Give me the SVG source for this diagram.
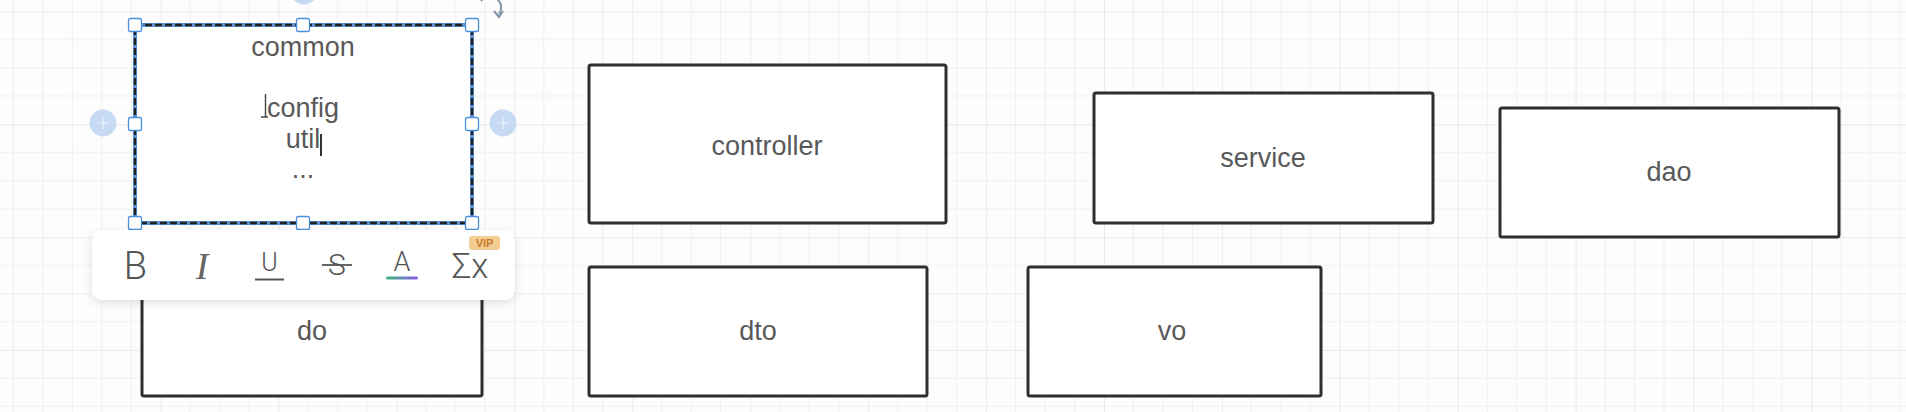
<svg xmlns="http://www.w3.org/2000/svg" width="1906" height="412" viewBox="0 0 1906 412">
<style>
.box{fill:#ffffff;stroke:#2e2e2e;stroke-width:3;}
.lbl{font-family:"Liberation Sans",Arial,sans-serif;font-size:27px;fill:#595959;text-anchor:middle;}
.hdl{fill:#ffffff;stroke:#4a8fdf;stroke-width:1.3;}
.anc{fill:#c6dbf3;}
.ico{font-family:Roboto,"Liberation Sans",sans-serif;font-weight:300;fill:#555555;text-anchor:middle;}
</style>
<defs>
<pattern id="grid" patternUnits="userSpaceOnUse" x="42.7" y="11.5" width="117.92" height="112.8">
<path d="M29.48 0V112.8M58.96 0V112.8M88.44 0V112.8M0 28.2H117.92M0 56.4H117.92M0 84.6H117.92" stroke="#efefef" stroke-width="1" fill="none"/>
<path d="M0 0V112.8M0 0H117.92" stroke="#e2e2e2" stroke-width="1.3" fill="none"/>
</pattern>
<filter id="sh" x="-10%" y="-30%" width="120%" height="170%">
<feDropShadow dx="0" dy="3" stdDeviation="5" flood-color="#000" flood-opacity="0.12"/>
</filter>
<linearGradient id="ag" x1="0" x2="1" y1="0" y2="0">
<stop offset="0" stop-color="#3cb878"/>
<stop offset="1" stop-color="#8a5cf0"/>
</linearGradient>
</defs>
<rect width="1906" height="412" fill="#fdfdfd"/>
<rect width="1906" height="412" fill="url(#grid)"/>
<g id="connectors"></g>
<g id="node-controller">
<rect class="box" x="589" y="65" width="357" height="158" rx="2"/>
<text class="lbl" x="767" y="155">controller</text>
</g>
<g id="node-service">
<rect class="box" x="1094" y="93" width="339" height="130" rx="2"/>
<text class="lbl" x="1263" y="167">service</text>
</g>
<g id="node-dao">
<rect class="box" x="1500" y="108" width="339" height="129" rx="2"/>
<text class="lbl" x="1669" y="181">dao</text>
</g>
<g id="node-dto">
<rect class="box" x="589" y="267" width="338" height="129" rx="2"/>
<text class="lbl" x="758" y="340">dto</text>
</g>
<g id="node-vo">
<rect class="box" x="1028" y="267" width="293" height="129" rx="2"/>
<text class="lbl" x="1172" y="340">vo</text>
</g>
<g id="node-do">
<rect class="box" x="142" y="267" width="340" height="129" rx="2"/>
<text class="lbl" x="312" y="340">do</text>
</g>
<g id="node-common">
<rect x="135" y="25" width="337" height="198" fill="#ffffff" stroke="#5b93d6" stroke-width="4"/>
<rect x="135" y="25" width="337" height="198" fill="none" stroke="#1f1f1f" stroke-width="2.4" stroke-dasharray="7 3"/>
<text class="lbl" x="303" y="56">common</text>
<text class="lbl" x="303" y="117">config</text>
<text class="lbl" x="303" y="147.5">util</text>
<text class="lbl" x="303" y="178">...</text>
<path d="M321 134V156" stroke="#333" stroke-width="2"/>
<path d="M265.5 94V117M261 117H268" stroke="#444" stroke-width="1.4" fill="none"/>
<rect class="hdl" x="128.5" y="18.5" width="13" height="13" rx="2"/>
<rect class="hdl" x="296.5" y="18.5" width="13" height="13" rx="2"/>
<rect class="hdl" x="465.5" y="18.5" width="13" height="13" rx="2"/>
<rect class="hdl" x="128.5" y="117.5" width="13" height="13" rx="2"/>
<rect class="hdl" x="465.5" y="117.5" width="13" height="13" rx="2"/>
<rect class="hdl" x="128.5" y="216.5" width="13" height="13" rx="2"/>
<rect class="hdl" x="296.5" y="216.5" width="13" height="13" rx="2"/>
<rect class="hdl" x="465.5" y="216.5" width="13" height="13" rx="2"/>
<circle class="anc" cx="103" cy="123" r="13.5"/>
<circle class="anc" cx="503" cy="123" r="13.5"/>
<circle class="anc" cx="304" cy="-9" r="13.5"/>
<path d="M103 117V129M97 123H109M503 117V129M497 123H509" stroke="#ffffff" stroke-width="1.2" opacity="0.6"/>
<path d="M481 1A11 11 0 0 1 499 14" fill="none" stroke="#8293a8" stroke-width="2"/>
<path d="M494 11L499 17L503 11" fill="none" stroke="#8293a8" stroke-width="2"/>
</g>
<g id="toolbar">
<rect x="92" y="230" width="423" height="70" rx="10" fill="#ffffff" filter="url(#sh)"/>
<text class="ico" x="135.5" y="279" style="font-size:38px">B</text>
<text x="202" y="279" font-family="Liberation Serif,serif" font-style="italic" font-size="38" fill="#666" text-anchor="middle">I</text>
<text class="ico" x="269.5" y="271" style="font-size:25px">U</text>
<path d="M255 279.5H284" stroke="#555" stroke-width="2"/>
<text class="ico" x="337" y="275" style="font-size:30px">S</text>
<path d="M322 265H352" stroke="#555" stroke-width="1.8"/>
<text class="ico" x="402" y="271" style="font-size:27px">A</text>
<rect x="386" y="276.5" width="32" height="3" rx="1.5" fill="url(#ag)"/>
<text class="ico" x="470" y="278" style="font-size:35px">Σx</text>
<rect x="469" y="236" width="31" height="14" rx="3" fill="#f4cd94"/>
<text x="484.5" y="247" font-family="Liberation Sans,sans-serif" font-size="11" font-weight="bold" fill="#c6782a" text-anchor="middle">VIP</text>
</g>
</svg>
